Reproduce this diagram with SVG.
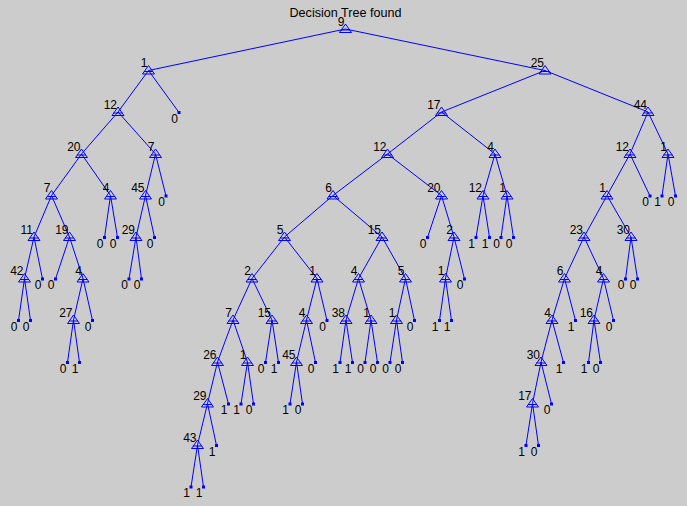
<svg xmlns="http://www.w3.org/2000/svg" xmlns:xlink="http://www.w3.org/1999/xlink" width="687" height="506" viewBox="0 0 687 506">
<style>
.e line{stroke:#0000ff;stroke-width:1;fill:none}
.tri polygon,.tri line{stroke:#0000ff;stroke-width:1;fill:none}
text{font-family:"Liberation Sans",Arial,sans-serif;font-size:12px;fill:#000}
.n text,.l text{text-anchor:end}
.l rect{fill:#0000ff}
</style>
<defs>
<g id="tri" class="tri"><polygon points="0,0 -6,8.5 6,8.5"/><line x1="-4.5" y1="6" x2="4.5" y2="6"/></g>
</defs>
<rect width="687" height="506" fill="#cccccc"/>
<text x="345.5" y="17" style="text-anchor:middle;font-size:12.6px">Decision Tree found</text>
<g id="edges" class="e">
<line x1="345.5" y1="29" x2="148.5" y2="70.5"/><line x1="345.5" y1="29" x2="545" y2="70.5"/>
<line x1="148.5" y1="70.5" x2="118" y2="112"/><line x1="148.5" y1="70.5" x2="179" y2="112.5"/>
<line x1="545" y1="70.5" x2="441.5" y2="112"/><line x1="545" y1="70.5" x2="648" y2="112"/>
<line x1="118" y1="112" x2="81.5" y2="154"/><line x1="118" y1="112" x2="155.5" y2="154"/>
<line x1="441.5" y1="112" x2="387.5" y2="154"/><line x1="441.5" y1="112" x2="495" y2="154"/>
<line x1="648" y1="112" x2="630" y2="154"/><line x1="648" y1="112" x2="668" y2="154"/>
<line x1="81.5" y1="154" x2="51.5" y2="195.5"/><line x1="81.5" y1="154" x2="110.5" y2="195.5"/>
<line x1="155.5" y1="154" x2="145.5" y2="195.5"/><line x1="155.5" y1="154" x2="166" y2="196"/>
<line x1="387.5" y1="154" x2="333" y2="195.5"/><line x1="387.5" y1="154" x2="441.5" y2="195.5"/>
<line x1="495" y1="154" x2="483" y2="195.5"/><line x1="495" y1="154" x2="507" y2="195.5"/>
<line x1="630" y1="154" x2="607" y2="195.5"/><line x1="630" y1="154" x2="650" y2="196"/>
<line x1="668" y1="154" x2="662" y2="196"/><line x1="668" y1="154" x2="675.5" y2="196"/>
<line x1="51.5" y1="195.5" x2="34" y2="237"/><line x1="51.5" y1="195.5" x2="69.5" y2="237"/>
<line x1="110.5" y1="195.5" x2="104.5" y2="237.5"/><line x1="110.5" y1="195.5" x2="117.5" y2="237.5"/>
<line x1="145.5" y1="195.5" x2="136" y2="237"/><line x1="145.5" y1="195.5" x2="154.5" y2="237.5"/>
<line x1="333" y1="195.5" x2="284.5" y2="237"/><line x1="333" y1="195.5" x2="382" y2="237"/>
<line x1="441.5" y1="195.5" x2="427.5" y2="237.5"/><line x1="441.5" y1="195.5" x2="454" y2="237"/>
<line x1="483" y1="195.5" x2="476" y2="237.5"/><line x1="483" y1="195.5" x2="489.5" y2="237.5"/>
<line x1="507" y1="195.5" x2="501" y2="237.5"/><line x1="507" y1="195.5" x2="513.5" y2="237.5"/>
<line x1="607" y1="195.5" x2="584" y2="237"/><line x1="607" y1="195.5" x2="631" y2="237"/>
<line x1="34" y1="237" x2="24.5" y2="278.5"/><line x1="34" y1="237" x2="42.5" y2="279"/>
<line x1="69.5" y1="237" x2="55.5" y2="279"/><line x1="69.5" y1="237" x2="83" y2="278.5"/>
<line x1="136" y1="237" x2="129" y2="279"/><line x1="136" y1="237" x2="141.5" y2="279"/>
<line x1="284.5" y1="237" x2="252" y2="278.5"/><line x1="284.5" y1="237" x2="317" y2="278.5"/>
<line x1="382" y1="237" x2="358.5" y2="278.5"/><line x1="382" y1="237" x2="405.5" y2="278.5"/>
<line x1="454" y1="237" x2="445.5" y2="278.5"/><line x1="454" y1="237" x2="464.5" y2="279"/>
<line x1="584" y1="237" x2="564.5" y2="278.5"/><line x1="584" y1="237" x2="603.5" y2="278.5"/>
<line x1="631" y1="237" x2="625.5" y2="279"/><line x1="631" y1="237" x2="637.5" y2="279"/>
<line x1="24.5" y1="278.5" x2="18.5" y2="320.5"/><line x1="24.5" y1="278.5" x2="30.5" y2="320.5"/>
<line x1="83" y1="278.5" x2="73.5" y2="320"/><line x1="83" y1="278.5" x2="92.5" y2="320.5"/>
<line x1="252" y1="278.5" x2="233" y2="320"/><line x1="252" y1="278.5" x2="272" y2="320"/>
<line x1="317" y1="278.5" x2="306.5" y2="320"/><line x1="317" y1="278.5" x2="327" y2="320.5"/>
<line x1="358.5" y1="278.5" x2="346" y2="320"/><line x1="358.5" y1="278.5" x2="371" y2="320"/>
<line x1="405.5" y1="278.5" x2="396.5" y2="320"/><line x1="405.5" y1="278.5" x2="414.5" y2="320.5"/>
<line x1="445.5" y1="278.5" x2="439.5" y2="320.5"/><line x1="445.5" y1="278.5" x2="451.5" y2="320.5"/>
<line x1="564.5" y1="278.5" x2="552" y2="320"/><line x1="564.5" y1="278.5" x2="575.5" y2="320.5"/>
<line x1="603.5" y1="278.5" x2="594" y2="320"/><line x1="603.5" y1="278.5" x2="613.5" y2="320.5"/>
<line x1="73.5" y1="320" x2="67.5" y2="362.5"/><line x1="73.5" y1="320" x2="79.5" y2="362.5"/>
<line x1="233" y1="320" x2="217.5" y2="362"/><line x1="233" y1="320" x2="247.5" y2="362"/>
<line x1="272" y1="320" x2="265.5" y2="362.5"/><line x1="272" y1="320" x2="278.5" y2="362.5"/>
<line x1="306.5" y1="320" x2="296.5" y2="362"/><line x1="306.5" y1="320" x2="315.5" y2="362.5"/>
<line x1="346" y1="320" x2="340" y2="362.5"/><line x1="346" y1="320" x2="352.5" y2="362.5"/>
<line x1="371" y1="320" x2="365" y2="362.5"/><line x1="371" y1="320" x2="377.5" y2="362.5"/>
<line x1="396.5" y1="320" x2="390" y2="362.5"/><line x1="396.5" y1="320" x2="402.5" y2="362.5"/>
<line x1="552" y1="320" x2="541" y2="362"/><line x1="552" y1="320" x2="563.5" y2="362.5"/>
<line x1="594" y1="320" x2="588.5" y2="362.5"/><line x1="594" y1="320" x2="600.5" y2="362.5"/>
<line x1="217.5" y1="362" x2="207.5" y2="403.5"/><line x1="217.5" y1="362" x2="228.5" y2="404"/>
<line x1="247.5" y1="362" x2="241" y2="404"/><line x1="247.5" y1="362" x2="253.5" y2="404"/>
<line x1="296.5" y1="362" x2="290" y2="404"/><line x1="296.5" y1="362" x2="302.5" y2="404"/>
<line x1="541" y1="362" x2="532.5" y2="403.5"/><line x1="541" y1="362" x2="551.5" y2="404"/>
<line x1="207.5" y1="403.5" x2="197.5" y2="445"/><line x1="207.5" y1="403.5" x2="216.5" y2="445.5"/>
<line x1="532.5" y1="403.5" x2="526" y2="445.5"/><line x1="532.5" y1="403.5" x2="538.5" y2="445.5"/>
<line x1="197.5" y1="445" x2="191" y2="487"/><line x1="197.5" y1="445" x2="203.5" y2="487"/>
</g>
<g id="n0" class="n" transform="translate(345.5,24)"><use xlink:href="#tri"/><text x="-1" y="1.5">9</text></g>
<g id="n1" class="n" transform="translate(148.5,65.5)"><use xlink:href="#tri"/><text x="-1" y="1.5">1</text></g>
<g id="n2" class="n" transform="translate(545,65.5)"><use xlink:href="#tri"/><text x="-1" y="1.5">25</text></g>
<g id="n3" class="n" transform="translate(118,107)"><use xlink:href="#tri"/><text x="-1" y="1.5">12</text></g>
<g id="n4" class="n" transform="translate(441.5,107)"><use xlink:href="#tri"/><text x="-1" y="1.5">17</text></g>
<g id="n5" class="n" transform="translate(648,107)"><use xlink:href="#tri"/><text x="-1" y="1.5">44</text></g>
<g id="n6" class="n" transform="translate(81.5,149)"><use xlink:href="#tri"/><text x="-1" y="1.5">20</text></g>
<g id="n7" class="n" transform="translate(155.5,149)"><use xlink:href="#tri"/><text x="-1" y="1.5">7</text></g>
<g id="n8" class="n" transform="translate(387.5,149)"><use xlink:href="#tri"/><text x="-1" y="1.5">12</text></g>
<g id="n9" class="n" transform="translate(495,149)"><use xlink:href="#tri"/><text x="-1" y="1.5">4</text></g>
<g id="n10" class="n" transform="translate(630,149)"><use xlink:href="#tri"/><text x="-1" y="1.5">12</text></g>
<g id="n11" class="n" transform="translate(668,149)"><use xlink:href="#tri"/><text x="-1" y="1.5">1</text></g>
<g id="n12" class="n" transform="translate(51.5,190.5)"><use xlink:href="#tri"/><text x="-1" y="1.5">7</text></g>
<g id="n13" class="n" transform="translate(110.5,190.5)"><use xlink:href="#tri"/><text x="-1" y="1.5">4</text></g>
<g id="n14" class="n" transform="translate(145.5,190.5)"><use xlink:href="#tri"/><text x="-1" y="1.5">45</text></g>
<g id="n15" class="n" transform="translate(333,190.5)"><use xlink:href="#tri"/><text x="-1" y="1.5">6</text></g>
<g id="n16" class="n" transform="translate(441.5,190.5)"><use xlink:href="#tri"/><text x="-1" y="1.5">20</text></g>
<g id="n17" class="n" transform="translate(483,190.5)"><use xlink:href="#tri"/><text x="-1" y="1.5">12</text></g>
<g id="n18" class="n" transform="translate(507,190.5)"><use xlink:href="#tri"/><text x="-1" y="1.5">1</text></g>
<g id="n19" class="n" transform="translate(607,190.5)"><use xlink:href="#tri"/><text x="-1" y="1.5">1</text></g>
<g id="n20" class="n" transform="translate(34,232)"><use xlink:href="#tri"/><text x="-1" y="1.5">11</text></g>
<g id="n21" class="n" transform="translate(69.5,232)"><use xlink:href="#tri"/><text x="-1" y="1.5">19</text></g>
<g id="n22" class="n" transform="translate(136,232)"><use xlink:href="#tri"/><text x="-1" y="1.5">29</text></g>
<g id="n23" class="n" transform="translate(284.5,232)"><use xlink:href="#tri"/><text x="-1" y="1.5">5</text></g>
<g id="n24" class="n" transform="translate(382,232)"><use xlink:href="#tri"/><text x="-1" y="1.5">15</text></g>
<g id="n25" class="n" transform="translate(454,232)"><use xlink:href="#tri"/><text x="-1" y="1.5">2</text></g>
<g id="n26" class="n" transform="translate(584,232)"><use xlink:href="#tri"/><text x="-1" y="1.5">23</text></g>
<g id="n27" class="n" transform="translate(631,232)"><use xlink:href="#tri"/><text x="-1" y="1.5">30</text></g>
<g id="n28" class="n" transform="translate(24.5,273.5)"><use xlink:href="#tri"/><text x="-1" y="1.5">42</text></g>
<g id="n29" class="n" transform="translate(83,273.5)"><use xlink:href="#tri"/><text x="-1" y="1.5">4</text></g>
<g id="n30" class="n" transform="translate(252,273.5)"><use xlink:href="#tri"/><text x="-1" y="1.5">2</text></g>
<g id="n31" class="n" transform="translate(317,273.5)"><use xlink:href="#tri"/><text x="-1" y="1.5">1</text></g>
<g id="n32" class="n" transform="translate(358.5,273.5)"><use xlink:href="#tri"/><text x="-1" y="1.5">4</text></g>
<g id="n33" class="n" transform="translate(405.5,273.5)"><use xlink:href="#tri"/><text x="-1" y="1.5">5</text></g>
<g id="n34" class="n" transform="translate(445.5,273.5)"><use xlink:href="#tri"/><text x="-1" y="1.5">1</text></g>
<g id="n35" class="n" transform="translate(564.5,273.5)"><use xlink:href="#tri"/><text x="-1" y="1.5">6</text></g>
<g id="n36" class="n" transform="translate(603.5,273.5)"><use xlink:href="#tri"/><text x="-1" y="1.5">4</text></g>
<g id="n37" class="n" transform="translate(73.5,315)"><use xlink:href="#tri"/><text x="-1" y="1.5">27</text></g>
<g id="n38" class="n" transform="translate(233,315)"><use xlink:href="#tri"/><text x="-1" y="1.5">7</text></g>
<g id="n39" class="n" transform="translate(272,315)"><use xlink:href="#tri"/><text x="-1" y="1.5">15</text></g>
<g id="n40" class="n" transform="translate(306.5,315)"><use xlink:href="#tri"/><text x="-1" y="1.5">4</text></g>
<g id="n41" class="n" transform="translate(346,315)"><use xlink:href="#tri"/><text x="-1" y="1.5">38</text></g>
<g id="n42" class="n" transform="translate(371,315)"><use xlink:href="#tri"/><text x="-1" y="1.5">1</text></g>
<g id="n43" class="n" transform="translate(396.5,315)"><use xlink:href="#tri"/><text x="-1" y="1.5">1</text></g>
<g id="n44" class="n" transform="translate(552,315)"><use xlink:href="#tri"/><text x="-1" y="1.5">4</text></g>
<g id="n45" class="n" transform="translate(594,315)"><use xlink:href="#tri"/><text x="-1" y="1.5">16</text></g>
<g id="n46" class="n" transform="translate(217.5,357)"><use xlink:href="#tri"/><text x="-1" y="1.5">26</text></g>
<g id="n47" class="n" transform="translate(247.5,357)"><use xlink:href="#tri"/><text x="-1" y="1.5">1</text></g>
<g id="n48" class="n" transform="translate(296.5,357)"><use xlink:href="#tri"/><text x="-1" y="1.5">45</text></g>
<g id="n49" class="n" transform="translate(541,357)"><use xlink:href="#tri"/><text x="-1" y="1.5">30</text></g>
<g id="n50" class="n" transform="translate(207.5,398.5)"><use xlink:href="#tri"/><text x="-1" y="1.5">29</text></g>
<g id="n51" class="n" transform="translate(532.5,398.5)"><use xlink:href="#tri"/><text x="-1" y="1.5">17</text></g>
<g id="n52" class="n" transform="translate(197.5,440)"><use xlink:href="#tri"/><text x="-1" y="1.5">43</text></g>
<g id="l1" class="l" transform="translate(179,112.5)"><rect x="-1.5" y="-1.5" width="3" height="3"/><text x="-1" y="10">0</text></g>
<g id="l2" class="l" transform="translate(166,196)"><rect x="-1.5" y="-1.5" width="3" height="3"/><text x="-1" y="10">0</text></g>
<g id="l3" class="l" transform="translate(650,196)"><rect x="-1.5" y="-1.5" width="3" height="3"/><text x="-1" y="10">0</text></g>
<g id="l4" class="l" transform="translate(662,196)"><rect x="-1.5" y="-1.5" width="3" height="3"/><text x="-1" y="10">1</text></g>
<g id="l5" class="l" transform="translate(675.5,196)"><rect x="-1.5" y="-1.5" width="3" height="3"/><text x="-1" y="10">0</text></g>
<g id="l6" class="l" transform="translate(104.5,237.5)"><rect x="-1.5" y="-1.5" width="3" height="3"/><text x="-1" y="10">0</text></g>
<g id="l7" class="l" transform="translate(117.5,237.5)"><rect x="-1.5" y="-1.5" width="3" height="3"/><text x="-1" y="10">0</text></g>
<g id="l8" class="l" transform="translate(154.5,237.5)"><rect x="-1.5" y="-1.5" width="3" height="3"/><text x="-1" y="10">0</text></g>
<g id="l9" class="l" transform="translate(427.5,237.5)"><rect x="-1.5" y="-1.5" width="3" height="3"/><text x="-1" y="10">0</text></g>
<g id="l10" class="l" transform="translate(476,237.5)"><rect x="-1.5" y="-1.5" width="3" height="3"/><text x="-1" y="10">1</text></g>
<g id="l11" class="l" transform="translate(489.5,237.5)"><rect x="-1.5" y="-1.5" width="3" height="3"/><text x="-1" y="10">1</text></g>
<g id="l12" class="l" transform="translate(501,237.5)"><rect x="-1.5" y="-1.5" width="3" height="3"/><text x="-1" y="10">0</text></g>
<g id="l13" class="l" transform="translate(513.5,237.5)"><rect x="-1.5" y="-1.5" width="3" height="3"/><text x="-1" y="10">0</text></g>
<g id="l14" class="l" transform="translate(42.5,279)"><rect x="-1.5" y="-1.5" width="3" height="3"/><text x="-1" y="10">0</text></g>
<g id="l15" class="l" transform="translate(55.5,279)"><rect x="-1.5" y="-1.5" width="3" height="3"/><text x="-1" y="10">0</text></g>
<g id="l16" class="l" transform="translate(129,279)"><rect x="-1.5" y="-1.5" width="3" height="3"/><text x="-1" y="10">0</text></g>
<g id="l17" class="l" transform="translate(141.5,279)"><rect x="-1.5" y="-1.5" width="3" height="3"/><text x="-1" y="10">0</text></g>
<g id="l18" class="l" transform="translate(464.5,279)"><rect x="-1.5" y="-1.5" width="3" height="3"/><text x="-1" y="10">0</text></g>
<g id="l19" class="l" transform="translate(625.5,279)"><rect x="-1.5" y="-1.5" width="3" height="3"/><text x="-1" y="10">0</text></g>
<g id="l20" class="l" transform="translate(637.5,279)"><rect x="-1.5" y="-1.5" width="3" height="3"/><text x="-1" y="10">0</text></g>
<g id="l21" class="l" transform="translate(18.5,320.5)"><rect x="-1.5" y="-1.5" width="3" height="3"/><text x="-1" y="10">0</text></g>
<g id="l22" class="l" transform="translate(30.5,320.5)"><rect x="-1.5" y="-1.5" width="3" height="3"/><text x="-1" y="10">0</text></g>
<g id="l23" class="l" transform="translate(92.5,320.5)"><rect x="-1.5" y="-1.5" width="3" height="3"/><text x="-1" y="10">0</text></g>
<g id="l24" class="l" transform="translate(327,320.5)"><rect x="-1.5" y="-1.5" width="3" height="3"/><text x="-1" y="10">0</text></g>
<g id="l25" class="l" transform="translate(414.5,320.5)"><rect x="-1.5" y="-1.5" width="3" height="3"/><text x="-1" y="10">0</text></g>
<g id="l26" class="l" transform="translate(439.5,320.5)"><rect x="-1.5" y="-1.5" width="3" height="3"/><text x="-1" y="10">1</text></g>
<g id="l27" class="l" transform="translate(451.5,320.5)"><rect x="-1.5" y="-1.5" width="3" height="3"/><text x="-1" y="10">1</text></g>
<g id="l28" class="l" transform="translate(575.5,320.5)"><rect x="-1.5" y="-1.5" width="3" height="3"/><text x="-1" y="10">1</text></g>
<g id="l29" class="l" transform="translate(613.5,320.5)"><rect x="-1.5" y="-1.5" width="3" height="3"/><text x="-1" y="10">0</text></g>
<g id="l30" class="l" transform="translate(67.5,362.5)"><rect x="-1.5" y="-1.5" width="3" height="3"/><text x="-1" y="10">0</text></g>
<g id="l31" class="l" transform="translate(79.5,362.5)"><rect x="-1.5" y="-1.5" width="3" height="3"/><text x="-1" y="10">1</text></g>
<g id="l32" class="l" transform="translate(265.5,362.5)"><rect x="-1.5" y="-1.5" width="3" height="3"/><text x="-1" y="10">0</text></g>
<g id="l33" class="l" transform="translate(278.5,362.5)"><rect x="-1.5" y="-1.5" width="3" height="3"/><text x="-1" y="10">1</text></g>
<g id="l34" class="l" transform="translate(315.5,362.5)"><rect x="-1.5" y="-1.5" width="3" height="3"/><text x="-1" y="10">0</text></g>
<g id="l35" class="l" transform="translate(340,362.5)"><rect x="-1.5" y="-1.5" width="3" height="3"/><text x="-1" y="10">1</text></g>
<g id="l36" class="l" transform="translate(352.5,362.5)"><rect x="-1.5" y="-1.5" width="3" height="3"/><text x="-1" y="10">1</text></g>
<g id="l37" class="l" transform="translate(365,362.5)"><rect x="-1.5" y="-1.5" width="3" height="3"/><text x="-1" y="10">0</text></g>
<g id="l38" class="l" transform="translate(377.5,362.5)"><rect x="-1.5" y="-1.5" width="3" height="3"/><text x="-1" y="10">0</text></g>
<g id="l39" class="l" transform="translate(390,362.5)"><rect x="-1.5" y="-1.5" width="3" height="3"/><text x="-1" y="10">0</text></g>
<g id="l40" class="l" transform="translate(402.5,362.5)"><rect x="-1.5" y="-1.5" width="3" height="3"/><text x="-1" y="10">0</text></g>
<g id="l41" class="l" transform="translate(563.5,362.5)"><rect x="-1.5" y="-1.5" width="3" height="3"/><text x="-1" y="10">1</text></g>
<g id="l42" class="l" transform="translate(588.5,362.5)"><rect x="-1.5" y="-1.5" width="3" height="3"/><text x="-1" y="10">1</text></g>
<g id="l43" class="l" transform="translate(600.5,362.5)"><rect x="-1.5" y="-1.5" width="3" height="3"/><text x="-1" y="10">0</text></g>
<g id="l44" class="l" transform="translate(228.5,404)"><rect x="-1.5" y="-1.5" width="3" height="3"/><text x="-1" y="10">1</text></g>
<g id="l45" class="l" transform="translate(241,404)"><rect x="-1.5" y="-1.5" width="3" height="3"/><text x="-1" y="10">1</text></g>
<g id="l46" class="l" transform="translate(253.5,404)"><rect x="-1.5" y="-1.5" width="3" height="3"/><text x="-1" y="10">0</text></g>
<g id="l47" class="l" transform="translate(290,404)"><rect x="-1.5" y="-1.5" width="3" height="3"/><text x="-1" y="10">1</text></g>
<g id="l48" class="l" transform="translate(302.5,404)"><rect x="-1.5" y="-1.5" width="3" height="3"/><text x="-1" y="10">0</text></g>
<g id="l49" class="l" transform="translate(551.5,404)"><rect x="-1.5" y="-1.5" width="3" height="3"/><text x="-1" y="10">0</text></g>
<g id="l50" class="l" transform="translate(216.5,445.5)"><rect x="-1.5" y="-1.5" width="3" height="3"/><text x="-1" y="10">1</text></g>
<g id="l51" class="l" transform="translate(526,445.5)"><rect x="-1.5" y="-1.5" width="3" height="3"/><text x="-1" y="10">1</text></g>
<g id="l52" class="l" transform="translate(538.5,445.5)"><rect x="-1.5" y="-1.5" width="3" height="3"/><text x="-1" y="10">0</text></g>
<g id="l53" class="l" transform="translate(191,487)"><rect x="-1.5" y="-1.5" width="3" height="3"/><text x="-1" y="10">1</text></g>
<g id="l54" class="l" transform="translate(203.5,487)"><rect x="-1.5" y="-1.5" width="3" height="3"/><text x="-1" y="10">1</text></g>
</svg>
